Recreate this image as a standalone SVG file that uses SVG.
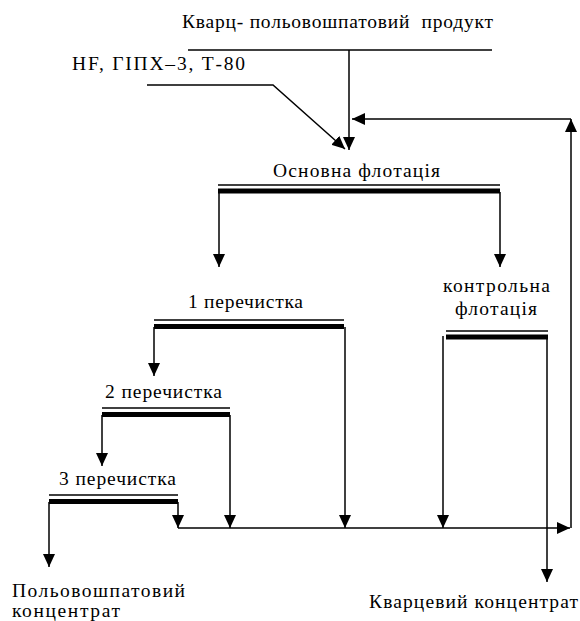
<svg xmlns="http://www.w3.org/2000/svg" width="580" height="621" viewBox="0 0 580 621">
<style>
text{font-family:'Liberation Serif','Times New Roman','DejaVu Serif',serif;font-size:19.5px;fill:#000}
.ln{fill:none;stroke:#000;stroke-width:1.5}
.thin{stroke:#000;stroke-width:1.5}
.thick{stroke:#000;stroke-width:5}
</style>
<defs>
<marker id="ah" viewBox="0 0 13 12" refX="13" refY="6" markerWidth="13" markerHeight="12" orient="auto" markerUnits="userSpaceOnUse">
<path d="M0,0 L13,6 L0,12 z" fill="#000"/>
</marker>
</defs>
<rect width="580" height="621" fill="#fff"/>
<g id="feed">
<text x="182" y="28" textLength="311" lengthAdjust="spacing" xml:space="preserve">Кварц- польовошпатовий  продукт</text>
<line class="thin" x1="188" y1="50" x2="492" y2="50"/>
</g>
<g id="reagents">
<text x="72" y="70" textLength="173" lengthAdjust="spacing">HF, ГІПХ–3, Т-80</text>
</g>
<g id="main-flotation">
<text x="273" y="177" textLength="167" lengthAdjust="spacing">Основна флотація</text>
<line class="thin" x1="218" y1="185" x2="500" y2="185"/>
<line class="thick" x1="218" y1="191" x2="500" y2="191"/>
</g>
<g id="cleaning1">
<text x="188" y="308" textLength="115" lengthAdjust="spacing">1 перечистка</text>
<line class="thin" x1="154" y1="320" x2="344" y2="320"/>
<line class="thick" x1="154" y1="326.5" x2="344" y2="326.5"/>
</g>
<g id="cleaning2">
<text x="105" y="398" textLength="117" lengthAdjust="spacing">2 перечистка</text>
<line class="thin" x1="102" y1="408" x2="230" y2="408"/>
<line class="thick" x1="102" y1="414.5" x2="230" y2="414.5"/>
</g>
<g id="cleaning3">
<text x="59" y="485" textLength="117" lengthAdjust="spacing">3 перечистка</text>
<line class="thin" x1="49" y1="495" x2="178" y2="495"/>
<line class="thick" x1="49" y1="501.5" x2="178" y2="501.5"/>
</g>
<g id="scavenger">
<text x="443" y="292" textLength="107" lengthAdjust="spacing">контрольна</text>
<text x="455" y="315" textLength="82" lengthAdjust="spacing">флотація</text>
<line class="thin" x1="446" y1="331" x2="548" y2="331"/>
<line class="thick" x1="446" y1="337" x2="548" y2="337"/>
</g>
<g id="feldspar-concentrate">
<text x="12" y="597" textLength="173" lengthAdjust="spacing">Польовошпатовий</text>
<text x="12" y="617" textLength="108" lengthAdjust="spacing">концентрат</text>
</g>
<g id="quartz-concentrate">
<text x="369" y="608" textLength="209" lengthAdjust="spacing">Кварцевий концентрат</text>
</g>
<g id="connectors">
<path class="ln" d="M349,50 V150" marker-end="url(#ah)"/>
<path class="ln" d="M147,85 H273 L345,149" marker-end="url(#ah)"/>
<path class="ln" d="M571,528 V119" marker-end="url(#ah)"/>
<path class="ln" d="M571,119 H352" marker-end="url(#ah)"/>
<path class="ln" d="M178,528 H570" marker-end="url(#ah)"/>
<path class="ln" d="M219,192 V267" marker-end="url(#ah)"/>
<path class="ln" d="M500,192 V267" marker-end="url(#ah)"/>
<path class="ln" d="M154,327 V376" marker-end="url(#ah)"/>
<path class="ln" d="M345,327 V528" marker-end="url(#ah)"/>
<path class="ln" d="M102,415 V466" marker-end="url(#ah)"/>
<path class="ln" d="M230,415 V528" marker-end="url(#ah)"/>
<path class="ln" d="M49,502 V567" marker-end="url(#ah)"/>
<path class="ln" d="M178,502 V528" marker-end="url(#ah)"/>
<path class="ln" d="M443,336 V528" marker-end="url(#ah)"/>
<path class="ln" d="M547,337 V582" marker-end="url(#ah)"/>
</g>
</svg>
